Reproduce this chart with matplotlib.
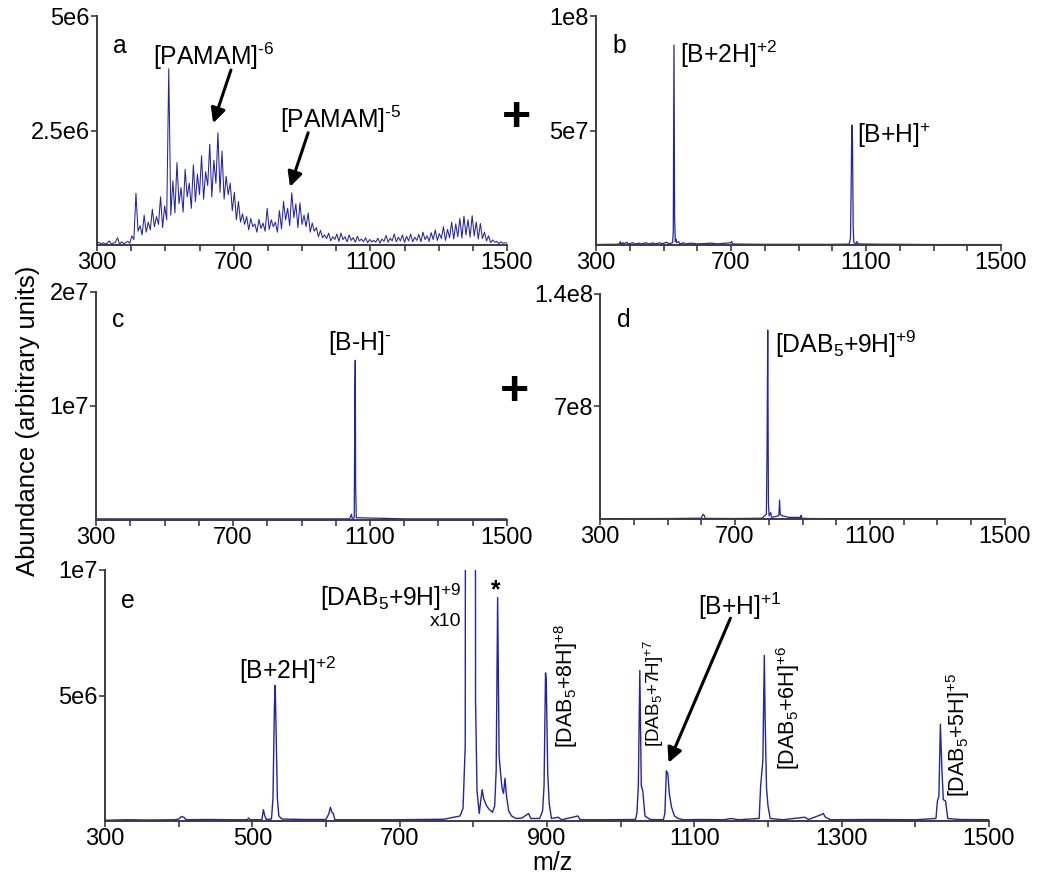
import numpy as np
import matplotlib
matplotlib.use('Agg')
import matplotlib.pyplot as plt
from matplotlib.ticker import MultipleLocator

plt.rcParams['font.family'] = ['Liberation Sans', 'DejaVu Sans']
plt.rcParams['mathtext.fontset'] = 'custom'
plt.rcParams['mathtext.rm'] = 'Liberation Sans'
plt.rcParams['mathtext.it'] = 'Liberation Sans:italic'
plt.rcParams['mathtext.bf'] = 'Liberation Sans:bold'
plt.rcParams['mathtext.sf'] = 'Liberation Sans'
plt.rcParams['mathtext.default'] = 'regular'

# ---------------- data ----------------
# panel a: PAMAM spectrum sampled every 6 m/z (abundance in 1e6)
mz_a = np.arange(300, 1501, 6)
ab_a = [0.03, 0.06, 0.02, 0.05, 0.02, 0.04, 0.09, 0.02, 0.04, 0.06, 0.16, 0.02, 0.07, 0.03, 0.05, 0.08, 0.04,
        0.20, 0.12, 1.13, 0.30, 0.42, 0.22, 0.65, 0.28, 0.50, 0.33, 0.78, 0.40, 0.62, 0.45, 1.05, 0.38, 0.85,
        0.55, 3.85, 0.65, 1.40, 0.70, 1.80, 0.90, 1.25, 0.72, 1.65, 1.05, 1.35, 0.80, 1.75, 0.95, 1.55, 1.10,
        1.95, 1.00, 1.60, 1.30, 2.20, 1.05, 1.85, 1.35, 2.45, 1.15, 2.05, 1.00, 1.50, 1.10, 1.35, 0.75, 1.15,
        0.55, 0.95, 0.50, 0.68, 0.45, 0.62, 0.33, 0.58, 0.40, 0.46, 0.28, 0.56, 0.36, 0.48, 0.30, 0.80, 0.34,
        0.55, 0.40, 0.50, 0.28, 0.75, 0.35, 0.95, 0.55, 0.80, 0.42, 1.14, 0.60, 0.90, 0.38, 0.92, 0.45, 0.65,
        0.40, 0.70, 0.28, 0.48, 0.30, 0.38, 0.18, 0.32, 0.16, 0.22, 0.14, 0.26, 0.09, 0.18, 0.12, 0.24, 0.08,
        0.26, 0.12, 0.18, 0.07, 0.22, 0.10, 0.16, 0.06, 0.19, 0.09, 0.13, 0.07, 0.16, 0.05, 0.12, 0.07, 0.10,
        0.06, 0.15, 0.04, 0.13, 0.08, 0.21, 0.06, 0.15, 0.09, 0.24, 0.07, 0.17, 0.09, 0.22, 0.06, 0.19, 0.09,
        0.24, 0.07, 0.17, 0.10, 0.23, 0.07, 0.28, 0.12, 0.20, 0.08, 0.27, 0.12, 0.33, 0.10, 0.25, 0.14, 0.40,
        0.10, 0.34, 0.16, 0.50, 0.13, 0.46, 0.18, 0.58, 0.15, 0.63, 0.22, 0.55, 0.17, 0.64, 0.20, 0.50, 0.13,
        0.47, 0.14, 0.28, 0.09, 0.20, 0.05, 0.11, 0.06, 0.08, 0.03, 0.07, 0.04, 0.05, 0.04]

# panel b (abundance in 1e7)
mz_b = [300, 340, 360, 370, 372, 374, 380, 382, 392, 394, 410, 412, 430, 432, 450, 452, 470, 472, 490, 495,
        510, 515, 527, 529, 531, 533, 535, 537, 539, 545, 548, 560, 562, 580, 600, 620, 640, 660, 700, 702,
        704, 720, 800, 900, 1000, 1050, 1054, 1056, 1058, 1060, 1062, 1064, 1070, 1073, 1076, 1100, 1200,
        1300, 1500]
ab_b = [0.02, 0.03, 0.03, 0.05, 0.15, 0.05, 0.10, 0.05, 0.12, 0.04, 0.10, 0.04, 0.08, 0.04, 0.10, 0.04,
        0.09, 0.04, 0.10, 0.05, 0.12, 0.05, 0.10, 0.60, 8.73, 1.20, 0.15, 0.25, 0.10, 0.15, 0.05, 0.10, 0.04,
        0.08, 0.05, 0.06, 0.08, 0.05, 0.10, 0.15, 0.05, 0.04, 0.03, 0.03, 0.03, 0.04, 0.30, 2.50, 5.24, 4.60,
        0.80, 0.10, 0.05, 0.15, 0.05, 0.04, 0.03, 0.02, 0.02]

# panel c (abundance in 1e7)
mz_c = [300, 500, 700, 900, 1040, 1046, 1048, 1054, 1056, 1057, 1058, 1060, 1200, 1500]
ab_c = [0.01, 0.01, 0.01, 0.01, 0.01, 0.05, 0.01, 0.02, 1.17, 1.40, 0.30, 0.02, 0.01, 0.01]

# panel d (abundance in 1e7)
mz_d = [300, 500, 600, 605, 608, 612, 700, 780, 793, 795, 797, 799, 801, 806, 808, 830, 832, 834, 836, 840,
        850, 860, 880, 894, 896, 898, 920, 1000, 1500]
ab_d = [0.02, 0.03, 0.05, 0.30, 0.25, 0.04, 0.03, 0.05, 0.30, 4.50, 11.76, 1.00, 0.20, 0.40, 0.10, 0.20,
        1.18, 0.30, 0.25, 0.20, 0.15, 0.10, 0.10, 0.10, 0.23, 0.05, 0.03, 0.02, 0.02]

# panel e (abundance in 1e6)
mz_e = [300, 330, 360, 395, 400, 404, 407, 410, 440, 470, 493, 495, 497, 513, 515, 517, 519, 526, 528, 530,
        531, 532, 534, 536, 540, 570, 600, 604, 606, 608, 610, 612, 650, 700, 760, 782, 786, 789, 792, 801,
        803, 805, 808, 810, 812, 814, 816, 818, 822, 826, 829, 831, 833, 835, 837, 839, 841, 843, 845, 848,
        852, 858, 866, 875, 878, 890, 894, 896, 898, 899, 901, 903, 906, 915, 920, 942, 945, 980, 1020, 1022,
        1024, 1026, 1028, 1030, 1033, 1040, 1058, 1060, 1062, 1064, 1066, 1069, 1073, 1078, 1085, 1110, 1140,
        1150, 1160, 1188, 1190, 1193, 1195, 1196, 1198, 1200, 1203, 1220, 1250, 1255, 1272, 1275, 1278, 1285,
        1340, 1400, 1428, 1430, 1432, 1434, 1436, 1438, 1441, 1444, 1460, 1500]
ab_e = [0.03, 0.05, 0.04, 0.05, 0.08, 0.18, 0.15, 0.05, 0.06, 0.05, 0.05, 0.12, 0.05, 0.05, 0.45, 0.20,
        0.06, 0.08, 0.90, 4.60, 5.40, 4.00, 0.90, 0.20, 0.08, 0.06, 0.06, 0.30, 0.55, 0.35, 0.30, 0.05, 0.05,
        0.05, 0.07, 0.20, 0.50, 3.00, 120.0, 120.0, 4.80, 1.20, 0.30, 0.80, 1.25, 0.90, 0.75, 0.60, 0.45, 0.35,
        0.60, 2.00, 8.90, 2.60, 1.90, 1.30, 1.10, 1.70, 1.00, 0.40, 0.20, 0.10, 0.12, 0.30, 0.10, 0.10, 0.40,
        1.40, 5.90, 5.60, 1.90, 0.70, 0.10, 0.15, 0.05, 0.20, 0.05, 0.05, 0.06, 0.30, 1.40, 6.00, 1.40, 1.20,
        0.20, 0.06, 0.05, 0.30, 2.00, 1.90, 1.10, 0.55, 0.20, 0.10, 0.05, 0.06, 0.05, 0.10, 0.05, 0.10, 1.40,
        2.40, 6.60, 4.20, 1.30, 0.60, 0.10, 0.05, 0.15, 0.06, 0.25, 0.30, 0.15, 0.05, 0.06, 0.05, 0.10, 0.80,
        1.00, 3.86, 2.10, 0.85, 0.80, 0.10, 0.06, 0.05]

x_ticks_top = [300, 700, 1100, 1500]
x_ticks_e = [300, 500, 700, 900, 1100, 1300, 1500]

# ---------------- figure ----------------
W, H = 1050, 882
fig = plt.figure(figsize=(W / 100, H / 100), dpi=100)

def px_axes(left, top, right, bottom):
    return fig.add_axes([left / W, 1 - bottom / H, (right - left) / W, (bottom - top) / H])

LINE = '#2424a2'
SPINE = '#3c3c3c'
FS = 17      # tick labels
FA = 17.8    # annotations
FR = 15.5    # rotated peak labels

def style(ax, ymax, yticks, ylabels, xticks):
    ax.set_xlim(300, 1500)
    ax.set_ylim(0, ymax)
    for s in ('top', 'right'):
        ax.spines[s].set_visible(False)
    for s in ('left', 'bottom'):
        ax.spines[s].set_color(SPINE)
        ax.spines[s].set_linewidth(1.4)
    ax.set_xticks(xticks)
    ax.set_xticklabels([str(v) for v in xticks])
    ax.xaxis.set_minor_locator(MultipleLocator(100))
    ax.set_yticks(yticks)
    ax.set_yticklabels(ylabels)
    ax.tick_params(axis='both', which='both', length=4, width=1.2, color=SPINE,
                   labelcolor='black', labelsize=FS, pad=1)
    ax.patch.set_visible(False)

axa = px_axes(97, 16, 507, 245)
axb = px_axes(596, 16, 1001, 245)
axc = px_axes(96, 292, 507, 520)
axd = px_axes(600, 294, 1005, 519)
axe = px_axes(105, 570, 989, 821)

axa.plot(mz_a, np.array(ab_a) * 1e6, color=LINE, lw=0.75)
axb.plot(mz_b, np.array(ab_b) * 1e7, color=LINE, lw=0.9)
axc.plot(mz_c, np.array(ab_c) * 1e7, color=LINE, lw=0.9)
axd.plot(mz_d, np.array(ab_d) * 1e7, color=LINE, lw=0.9)
axe.plot(mz_e, np.array(ab_e) * 1e6, color=LINE, lw=1.0)

style(axa, 5e6, [2.5e6, 5e6], ['2.5e6', '5e6'], x_ticks_top)
style(axb, 1e8, [5e7, 1e8], ['5e7', '1e8'], x_ticks_top)
style(axc, 2e7, [1e7, 2e7], ['1e7', '2e7'], x_ticks_top)
style(axd, 1.4e8, [7e7, 1.4e8], ['7e8', '1.4e8'], x_ticks_top)
style(axe, 1e7, [5e6, 1e7], ['5e6', '1e7'], x_ticks_e)

arrow = dict(arrowstyle='-|>', color='black', lw=2.2, mutation_scale=22, shrinkA=0, shrinkB=0)

# panel a
axa.text(347, 4.19e6, 'a', fontsize=FA, va='baseline')
axa.text(464, 3.93e6, r'[PAMAM]$^{\text{-6}}$', fontsize=FA, va='baseline')
axa.annotate('', xy=(640, 2.66e6), xytext=(692, 3.82e6), arrowprops=arrow)
axa.text(836, 2.55e6, r'[PAMAM]$^{\text{-5}}$', fontsize=FA, va='baseline')
axa.annotate('', xy=(865, 1.27e6), xytext=(918, 2.45e6), arrowprops=arrow)

# panel b
axb.text(350, 8.38e7, 'b', fontsize=FA, va='baseline')
axb.text(549, 7.95e7, '[B+2H]$^{+2}$', fontsize=FA, va='baseline')
axb.text(1073, 4.45e7, '[B+H]$^{+}$', fontsize=FA, va='baseline')

# panel c
axc.text(347, 1.69e7, 'c', fontsize=FA, va='baseline')
axc.text(977, 1.49e7, r'[B-H]$^{\text{-}}$', fontsize=FA, va='baseline')

# panel d
axd.text(350, 1.195e8, 'd', fontsize=FA, va='baseline')
axd.text(818, 1.03e8, '[DAB$_{5}$+9H]$^{+9}$', fontsize=FA, va='baseline')

# panel e
axe.text(322, 8.5e6, 'e', fontsize=FA, va='baseline')
axe.text(482, 5.65e6, '[B+2H]$^{+2}$', fontsize=FA, va='baseline')
axe.text(784, 8.55e6, '[DAB$_{5}$+9H]$^{+9}$', fontsize=FA, va='baseline', ha='right')
axe.text(783, 7.76e6, 'x10', fontsize=14, va='baseline', ha='right')
axe.text(830, 9.2e6, '*', fontsize=FA, va='center', ha='center', fontweight='bold')
axe.text(935, 2.9e6, '[DAB$_{5}$+8H]$^{+8}$', fontsize=FR, rotation=90,
         rotation_mode='anchor', ha='left', va='baseline')
axe.text(1053, 2.95e6, '[DAB$_{5}$+7H]$^{+7}$', fontsize=13.6, rotation=90,
         rotation_mode='anchor', ha='left', va='baseline')
axe.text(1236, 2.03e6, '[DAB$_{5}$+6H]$^{+6}$', fontsize=FR, rotation=90,
         rotation_mode='anchor', ha='left', va='baseline')
axe.text(1468, 0.96e6, '[DAB$_{5}$+5H]$^{+5}$', fontsize=FR, rotation=90,
         rotation_mode='anchor', ha='left', va='baseline')
axe.text(1105, 8.2e6, '[B+H]$^{+1}$', fontsize=FA, va='baseline')
axe.annotate('', xy=(1065, 2.32e6), xytext=(1149, 8.08e6), arrowprops=arrow)

# shared labels and plus signs
fig.text(28 / W, 1 - 421 / H, 'Abundance (arbitrary units)', rotation=90, fontsize=18.5,
         ha='center', va='center')
fig.text(552 / W, 1 - 863 / H, 'm/z', fontsize=18, ha='center', va='center')
fig.text(516 / W, 1 - 118 / H, '+', fontsize=36, fontweight='bold', ha='center', va='center')
fig.text(515 / W, 1 - 392 / H, '+', fontsize=36, fontweight='bold', ha='center', va='center')

fig.savefig('out.png', dpi=100)
